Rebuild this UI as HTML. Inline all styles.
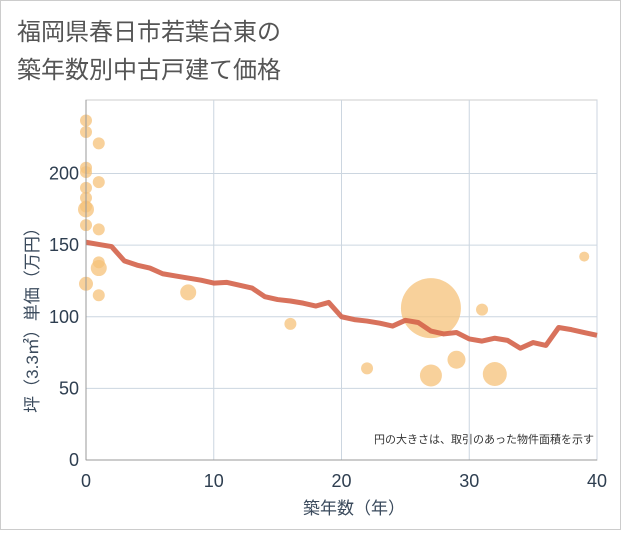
<!DOCTYPE html>
<html><head><meta charset="utf-8"><style>
body{margin:0;background:#fff;font-family:"Liberation Sans","Noto Sans CJK JP",sans-serif}
</style></head><body>
<svg id="c" width="621" height="530" xmlns="http://www.w3.org/2000/svg" font-family="Liberation Sans, Noto Sans CJK JP, sans-serif">
<rect x="0.5" y="0.5" width="620" height="529" fill="#fff" stroke="#ccc"/>
<text x="17" y="40" font-size="24" fill="#555">福岡県春日市若葉台東の</text>
<text x="17" y="78" font-size="24" fill="#555">築年数別中古戸建て価格</text>
<g id="grid"></g><g id="bubbles"></g><g id="line"></g><g id="axes"></g>
<text x="594" y="443" font-size="11" fill="#333" text-anchor="end">円の大きさは、取引のあった物件面積を示す</text>
<text x="354" y="514" font-size="17" fill="#3a4a5c" text-anchor="middle">築年数（年）</text>
<text transform="translate(38,316) rotate(-90)" font-size="17" fill="#3a4a5c" text-anchor="middle">坪（3.3㎡）単価（万円）</text>
</svg>
<script>
const xTicks=[0,10,20,30,40];
const yTicks=[0,50,100,150,200];
const lineYears=[0,1,2,3,4,5,6,7,8,9,10,11,12,13,14,15,16,17,18,19,20,21,22,23,24,25,26,27,28,29,30,31,32,33,34,35,36,37,38,39,40];
const lineValues=[152,150.5,149,139,136,134,130,128.5,127,125.5,123.5,124,122,120,114,112,111,109.5,107.5,110,100,98,97,95.5,93.5,97.5,96,90,88,89,84.5,83,85,83.5,78,82,80,92.5,91,89,87];
const bubbleYears=[0,0,1,0,0,1,0,0,0,0,1,0,1,1,0,1,8,16,22,27,27,29,31,32,39];
const bubbleValues=[237,229,221,204,201,194,190,183,177,175,161,164,138,134,123,115,117,95,64,106,59,70,105,60,142];
const bubbleRadii=[6,6,6,6,6,6,6,6,6,8,6,6,6,8,7,6,8,6,6,30,11,9,6,12,5];
const X0=86,X1=597,Y0=460,Y1=173.5;
const sx=v=>X0+(v-0)/(40-0)*(X1-X0);
const sy=v=>Y0-(v/200)*(Y0-Y1);
const NS="http://www.w3.org/2000/svg";
function mk(p,t,a){const e=document.createElementNS(NS,t);for(const k in a)e.setAttribute(k,a[k]);p.appendChild(e);return e;}
const g=document.getElementById('grid'),ax=document.getElementById('axes');
mk(g,'rect',{x:X0,y:100,width:X1-X0,height:Y0-100,fill:'none',stroke:'#ccc'});
xTicks.forEach(t=>{const l=mk(g,'line',{x1:sx(t),x2:sx(t),y1:100,y2:Y0,stroke:'#ccd6e0'});


const tx=mk(ax,'text',{x:sx(t),y:487,'font-size':18,fill:'#2e3e50','text-anchor':'middle'});tx.textContent=t;

});
yTicks.forEach(t=>{const l=mk(g,'line',{x1:X0,x2:X1,y1:sy(t),y2:sy(t),stroke:'#ccd6e0'});


const tx=mk(ax,'text',{x:79,y:sy(t)+6,'font-size':18,fill:'#2e3e50','text-anchor':'end'});tx.textContent=t;

});
mk(ax,'line',{x1:X0,x2:X0,y1:100,y2:Y0,stroke:'#999'});
mk(ax,'line',{x1:X0,x2:X1,y1:Y0,y2:Y0,stroke:'#999'});
const b=document.getElementById('bubbles');
bubbleYears.forEach((yr,i)=>{const c=mk(b,'circle',{cx:sx(yr),cy:sy(bubbleValues[i]),r:bubbleRadii[i],fill:'#f5c27a','fill-opacity':0.75});

});
const pl=mk(document.getElementById('line'),'polyline',{points:lineYears.map((y,i)=>sx(y)+','+sy(lineValues[i])).join(' '),fill:'none',stroke:'#d4634a','stroke-width':5,'stroke-opacity':0.9,'stroke-linejoin':'round'});


</script>
</body></html>
